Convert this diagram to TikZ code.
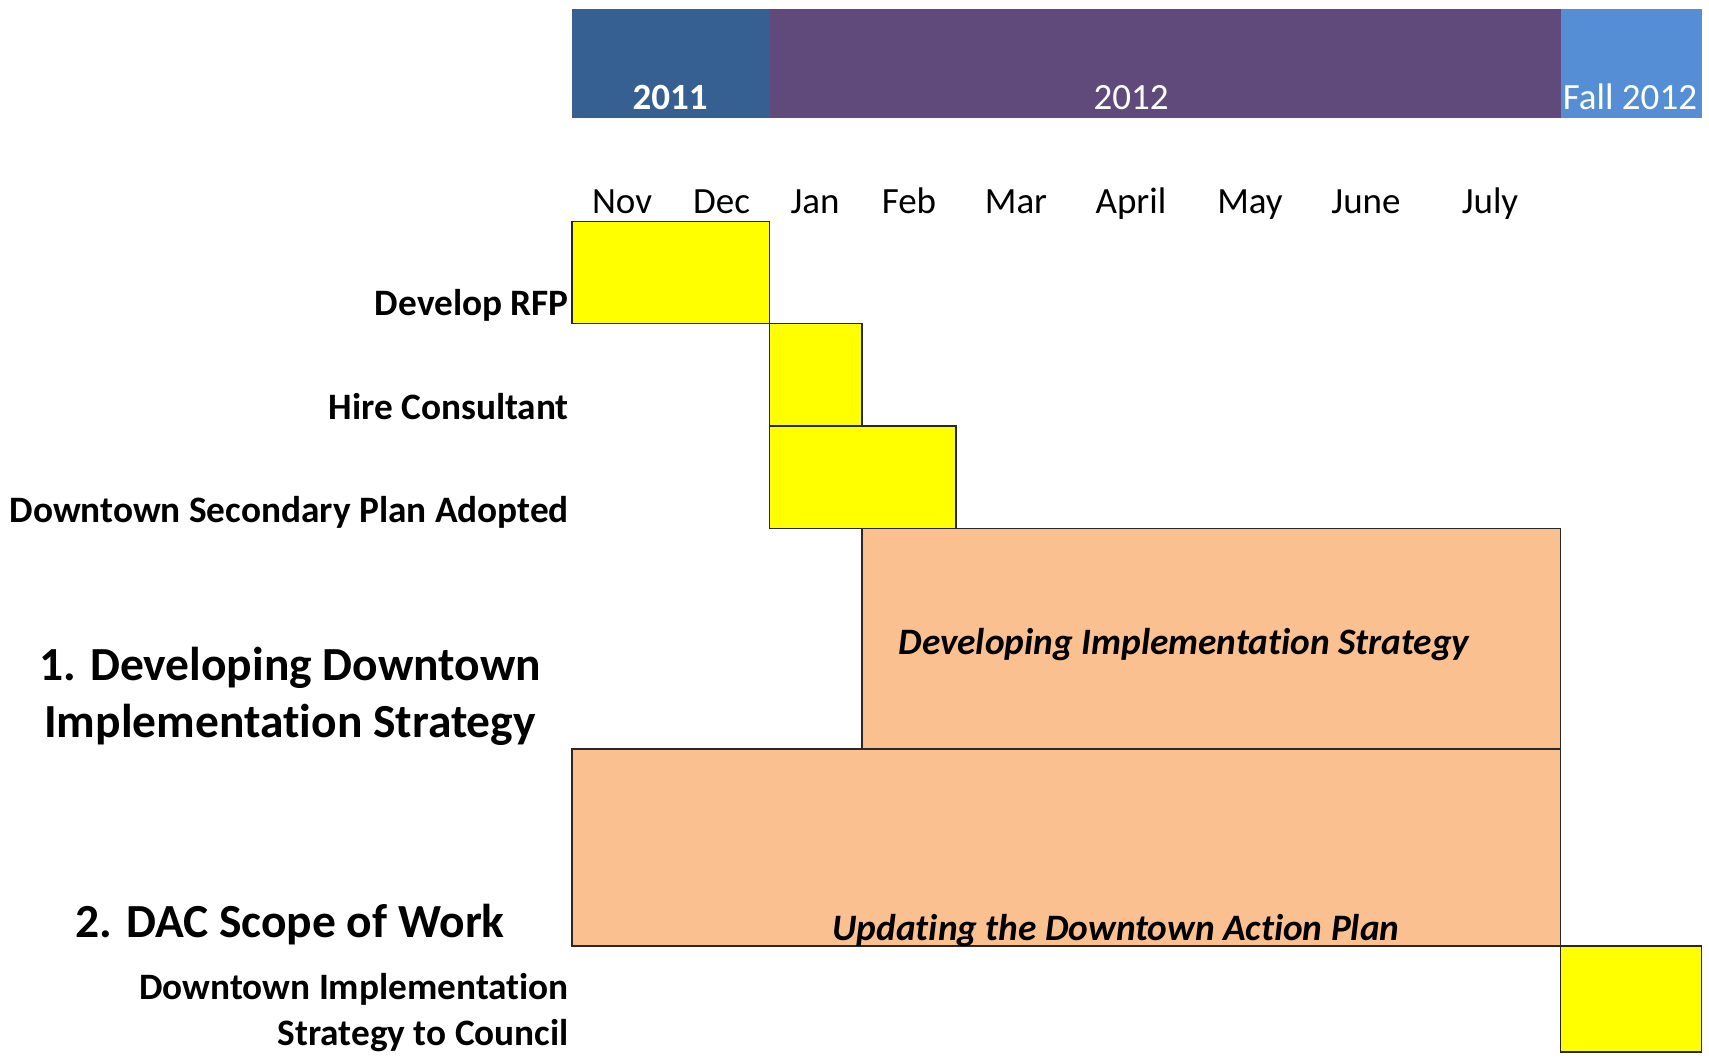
\documentclass[tikz,border=0pt]{standalone}
\usepackage{fontspec}
\setmainfont[Ligatures=NoCommon]{Carlito}
\definecolor{hdrblue}{RGB}{55,96,146}
\definecolor{hdrpurple}{RGB}{96,74,123}
\definecolor{hdrlight}{RGB}{85,142,213}
\definecolor{baryellow}{RGB}{255,255,0}
\definecolor{barorange}{RGB}{250,192,144}
\definecolor{edge}{RGB}{40,40,40}
\begin{document}
\begin{tikzpicture}[x=1pt,y=-1pt,
  hdr/.style={anchor=north west,inner sep=0,outer sep=0,draw=none},
  bar/.style={anchor=north west,inner sep=0,outer sep=0,draw=edge,line width=1.5pt},
  yel/.style={bar,fill=baryellow},
  ora/.style={bar,fill=barorange},
  month/.style={anchor=base,inner sep=0,font=\fontsize{37}{44}\selectfont},
  year/.style={anchor=base,inner sep=0,text=white,font=\fontsize{37}{44}\selectfont},
  task/.style={anchor=base east,inner sep=0,font=\fontsize{37.3}{46}\selectfont\bfseries},
  big/.style={inner sep=0,align=center,font=\fontsize{47.5}{57}\selectfont\bfseries},
  inbar/.style={anchor=base,inner sep=0,font=\fontsize{37.3}{44}\selectfont\bfseries\itshape}]
\useasboundingbox (0,0) rectangle (1709,1059);
% header
\node[hdr,fill=hdrblue,minimum width=198pt,minimum height=109pt] (h2011) at (572,9) {};
\node[hdr,fill=hdrpurple,minimum width=792pt,minimum height=109pt] (h2012) at (769.5,9) {};
\node[hdr,fill=hdrlight,minimum width=141pt,minimum height=109pt] (hfall) at (1560.7,9) {};
\node[year,font=\fontsize{37}{44}\selectfont\bfseries] (y2011) at (670,110) {2011};
\node[year] (y2012) at (1131,110) {2012};
\node[year] (yfall) at (1630,110) {Fall 2012};
% months
\node[month] (mnov) at (622,213.5) {Nov};
\node[month] (mdec) at (721.5,213.5) {Dec};
\node[month] (mjan) at (815,213.5) {Jan};
\node[month] (mfeb) at (909,213.5) {Feb};
\node[month] (mmar) at (1016,213.5) {Mar};
\node[month] (mapr) at (1131,213.5) {April};
\node[month] (mmay) at (1250,213.5) {May};
\node[month] (mjun) at (1366,213.5) {June};
\node[month] (mjul) at (1490,213.5) {July};
% bars
\node[yel,minimum width=197.3pt,minimum height=102.4pt] (rfp) at (572.2,221.3) {};
\node[yel,minimum width=92.6pt,minimum height=102.5pt] (hire) at (769.5,323.7) {};
\node[yel,minimum width=186.4pt,minimum height=102.4pt] (sec) at (769.5,426.2) {};
\node[ora,minimum width=698.6pt,minimum height=220.2pt] (dis) at (862.1,528.6) {};
\node[ora,minimum width=988.5pt,minimum height=197.2pt] (dap) at (572.2,748.8) {};
\node[yel,minimum width=140.6pt,minimum height=105.8pt] (cncl) at (1560.7,946) {};
% task labels
\node[task] (lrfp) at (569,316) {Develop RFP};
\node[task] (lhire) at (569,419) {Hire Consultant};
\node[task] (lsec) at (569,522) {Downtown Secondary Plan Adopted};
\node[big] (l1) at (290,696) {1. Developing Downtown\\Implementation Strategy};
\node[big,anchor=base] (l2) at (290,937) {2. DAC Scope of Work};
\node[task,align=right,anchor=north east] (lcncl) at (569,973) {Downtown Implementation\\Strategy to Council};
% in-bar labels
\node[inbar] (tdis) at (1184,654) {Developing Implementation Strategy};
\node[inbar] (tdap) at (1116,940) {Updating the Downtown Action Plan};
\end{tikzpicture}
\end{document}
